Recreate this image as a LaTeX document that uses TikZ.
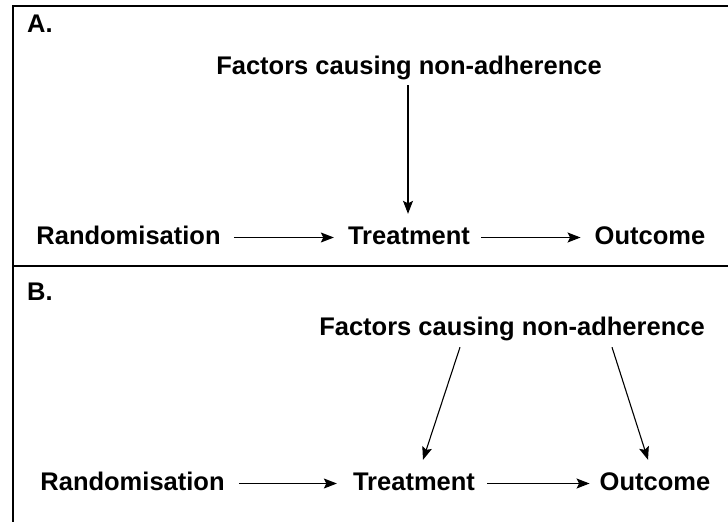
\documentclass[tikz,border=0pt]{standalone}
\usepackage{fontspec}
\setmainfont{Liberation Sans}
\usetikzlibrary{arrows.meta}
\begin{document}
\begin{tikzpicture}[x=1pt,y=-1pt,
  lbl/.style={inner sep=0pt, font=\bfseries\fontsize{25.5}{30}\selectfont, text height=18pt, text depth=5pt, anchor=center},
  panel/.style={inner sep=0pt, font=\bfseries\fontsize{25.5}{30}\selectfont, anchor=west},
  arr/.style={-{Stealth[length=13pt,width=10pt,inset=2.5pt]}, line width=1.1pt},
  frame/.style={line width=1.4pt}]
\useasboundingbox (0,0) rectangle (728,522);
% frame
\coordinate (tl) at (13,6);
\coordinate (tr) at (728,6);
\coordinate (ml) at (13,266);
\coordinate (mr) at (728,266);
\coordinate (bl) at (13,522);
\draw[frame] (tr) -- (tl) -- (bl);
\draw[frame] (ml) -- (mr);
% Panel A
\node[panel] (pA) at (27,24) {A.};
\node[lbl] (fA) at (409,67.5) {Factors causing non-adherence};
\node[lbl] (rA) at (128.5,237.5) {Randomisation};
\node[lbl] (tA) at (409,237.5) {Treatment};
\node[lbl] (oA) at (650,237.5) {Outcome};
\draw[arr, shorten <=13pt, shorten >=14pt] (rA.east) -- (tA.west);
\draw[arr, shorten <=11pt, shorten >=14pt] (tA.east) -- (oA.west);
\draw[arr, shorten <=6pt, shorten >=12pt] (fA.south -| 408,0) -- (tA.north -| 408,0);
% Panel B
\node[panel] (pB) at (27,292) {B.};
\node[lbl] (fB) at (512,328.5) {Factors causing non-adherence};
\node[lbl] (rB) at (132.5,483.5) {Randomisation};
\node[lbl] (tB) at (414,483.5) {Treatment};
\node[lbl] (oB) at (655,483.5) {Outcome};
\draw[arr, shorten <=14pt, shorten >=16pt] (rB.east) -- (tB.west);
\draw[arr, shorten <=12pt, shorten >=10pt] (tB.east) -- (oB.west);
\draw[arr] ([xshift=-52pt,yshift=-7pt]fB.south) -- ([xshift=9pt,yshift=12pt]tB.north);
\draw[arr] ([xshift=100pt,yshift=-7pt]fB.south) -- ([xshift=-7pt,yshift=12pt]oB.north);
\end{tikzpicture}
\end{document}
